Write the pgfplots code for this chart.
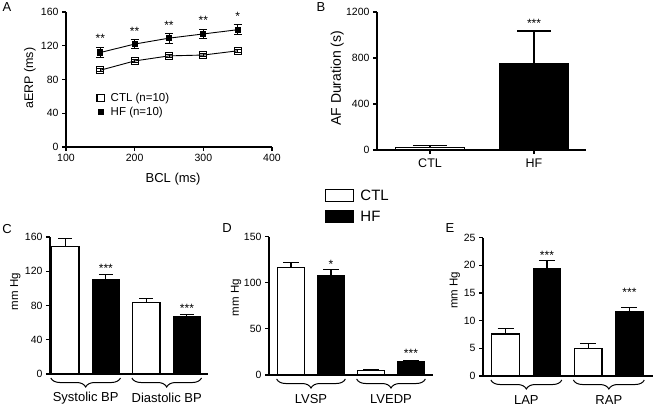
\documentclass[border=0pt]{standalone}
\usepackage{pgfplots}
\pgfplotsset{compat=1.18}
\usepackage{fontspec}
\setmainfont{Liberation Sans}
\usetikzlibrary{decorations.pathreplacing}
\newcommand{\fs}[1]{\fontsize{#1}{#1}\selectfont}
\begin{document}
\begin{tikzpicture}
\path[use as bounding box] (0,0) rectangle (656pt,-407pt);
\tikzset{
  star/.style={font=\fontsize{12}{12}\selectfont},
  brc/.style={decorate, decoration={brace, mirror, amplitude=9pt}, line width=1pt},
}
\pgfplotsset{
  panel/.style={
    scale only axis, axis lines*=left, axis line style={-, line width=1.1pt},
    tick align=outside, tick style={black, line width=1.1pt}, major tick length=4pt,
    ticklabel style={font=\fontsize{10.5}{11}\selectfont},
    /pgf/number format/assume math mode=true, /pgf/number format/1000 sep={},
    clip=false, anchor=south west, enlargelimits=false, ymin=0,
  },
  barpanel/.style={panel, xmin=-0.5, xmax=3.55, xtick={0.5,2.5},
    major x tick style={draw=none},
    xticklabel style={font=\fontsize{13}{14}\selectfont, anchor=center, yshift=-20pt}},
  anybar/.style 2 args={ybar, bar width=0.67, bar shift=0pt, fill=#2, draw=black, line width=1.1pt,
    /pgfplots/error bars/y dir=plus, /pgfplots/error bars/y explicit,
    /pgfplots/error bars/error bar style={line width=1.1pt},
    /pgfplots/error bars/error mark options={rotate=90, mark size=#1, line width=1.1pt}},
  ctlbar/.style={anybar={#1}{white}},
  hfbar/.style={anybar={#1}{black}},
}
% ---------------- Panel A
\begin{axis}[panel, at={(66pt,-147pt)}, width=206pt, height=135pt,
  xmin=100, xmax=400, ymax=160, xtick={100,200,300,400}, ytick={0,40,80,120,160},
  xlabel={\fs{13}BCL (ms)}, ylabel={\fs{12.5}aERP (ms)},
  xlabel style={at={(axis description cs:0.52,-0.237)}, anchor=center},
  ylabel style={at={(axis description cs:-0.175,0.51)}, anchor=center},
  legend style={at={(axis description cs:0.135,0.43)}, anchor=north west, draw=none, fill=none,
    font=\fontsize{11.5}{12}\selectfont, row sep=0pt},
  legend image code/.code={\draw[#1] plot[only marks] coordinates {(0.15cm,0cm)}; \path (0.42cm,0cm);},
  legend cell align=left]
\addplot[black, line width=0.9pt, mark=square, mark size=3.6pt, mark options={fill=white, line width=1.1pt},
  error bars/.cd, y dir=both, y explicit, error bar style={line width=1pt},
  error mark options={rotate=90, mark size=3pt, line width=1pt}]
  coordinates {(150,91) +- (0,2) (200,102) +- (0,2) (250,108) +- (0,2) (300,109) +- (0,2) (350,114) +- (0,2)};
\addlegendentry{CTL (n=10)}
\addplot[black, line width=0.9pt, mark=square*, mark size=2.6pt, mark options={fill=black},
  error bars/.cd, y dir=both, y explicit, error bar style={line width=1pt},
  error mark options={rotate=90, mark size=4pt, line width=1pt}]
  coordinates {(150,112) +- (0,5.5) (200,122) +- (0,5.5) (250,129) +- (0,6) (300,134) +- (0,5.5) (350,139) +- (0,6)};
\addlegendentry{HF (n=10)}
\node[star] at (axis cs:150,129) {**};
\node[star] at (axis cs:200,137.5) {**};
\node[star] at (axis cs:250,144.5) {**};
\node[star] at (axis cs:300,150.5) {**};
\node[star] at (axis cs:350,155) {*};
\end{axis}
% ---------------- Panel B
\begin{axis}[panel, at={(377pt,-150pt)}, width=209pt, height=138pt,
  xmin=-0.51, xmax=1.5, ymax=1200, ytick={0,400,800,1200},
  xtick={0,1}, xticklabels={CTL,HF},
  xticklabel style={font=\fontsize{12.5}{13}\selectfont, yshift=-1pt},
  ylabel={\fs{14}AF Duration (s)},
  ylabel style={at={(axis description cs:-0.19,0.52)}, anchor=center}]
\addplot[ctlbar=17pt] coordinates {(0,22) +- (0,15)};
\addplot[hfbar=17pt] coordinates {(1,750) +- (0,285)};
\node[star] at (axis cs:1,1100) {***};
\end{axis}
% ---------------- Panel C
\begin{axis}[barpanel, at={(50pt,-374pt)}, width=158pt, height=137pt,
  xmin=-0.38, xmax=3.52, ymax=160, ytick={0,40,80,120,160},
  xticklabels={Systolic BP, Diastolic BP},
  ylabel={\fs{11.5}mm Hg}, ylabel style={at={(axis description cs:-0.22,0.6)}, anchor=center}]
\addplot[ctlbar=7pt] coordinates {(0,149) +- (0,9)};
\addplot[hfbar=7pt] coordinates {(1,110) +- (0,6)};
\addplot[ctlbar=7pt] coordinates {(2,84) +- (0,4.5)};
\addplot[hfbar=7pt] coordinates {(3,67) +- (0,2.5)};
\node[star] at (axis cs:1,123) {***};
\node[star] at (axis cs:3,76.5) {***};
\draw[brc] ([yshift=-4pt]axis cs:-0.36,0) -- ([yshift=-4pt]axis cs:1.36,0);
\draw[brc] ([yshift=-4pt]axis cs:1.64,0) -- ([yshift=-4pt]axis cs:3.36,0);
\end{axis}
% ---------------- Panel D
\begin{axis}[barpanel, at={(269pt,-375pt)}, width=164pt, height=138.3pt,
  xmin=-0.55, xmax=3.55, ymax=150, ytick={0,50,100,150},
  xticklabels={LVSP, LVEDP},
  ylabel={\fs{11.5}mm Hg}, ylabel style={at={(axis description cs:-0.2,0.56)}, anchor=center},
  legend style={at={(axis description cs:0.32,1.37)}, anchor=north west, draw=none, fill=none,
    font=\fontsize{15}{16}\selectfont, row sep=5pt},
  legend cell align=left]
\addlegendimage{legend image code/.code={\draw[fill=white, draw=black, line width=1.1pt] (0pt,-6pt) rectangle (28pt,6pt); \path (33pt,0pt);}}
\addlegendentry{CTL}
\addlegendimage{legend image code/.code={\draw[fill=black, draw=black, line width=1.1pt] (0pt,-6pt) rectangle (28pt,6pt); \path (33pt,0pt);}}
\addlegendentry{HF}
\addplot[ctlbar=8pt, forget plot] coordinates {(0,117) +- (0,5)};
\addplot[hfbar=8pt, forget plot] coordinates {(1,108) +- (0,6)};
\addplot[ctlbar=8pt, forget plot] coordinates {(2,4.7) +- (0,1)};
\addplot[hfbar=8pt, forget plot] coordinates {(3,14.5) +- (0,1)};
\node[star] at (axis cs:1,120) {*};
\node[star] at (axis cs:3,23) {***};
\draw[brc] ([yshift=-4pt]axis cs:-0.36,0) -- ([yshift=-4pt]axis cs:1.36,0);
\draw[brc] ([yshift=-4pt]axis cs:1.64,0) -- ([yshift=-4pt]axis cs:3.36,0);
\end{axis}
% ---------------- Panel E
\begin{axis}[barpanel, at={(483pt,-376pt)}, width=170pt, height=138.3pt,
  xmin=-0.55, xmax=3.57, ymax=25, ytick={0,5,10,15,20,25},
  xticklabels={LAP, RAP},
  ylabel={\fs{11.5}mm Hg}, ylabel style={at={(axis description cs:-0.165,0.62)}, anchor=center}]
\addplot[ctlbar=8pt] coordinates {(0,7.6) +- (0,1)};
\addplot[hfbar=8pt] coordinates {(1,19.5) +- (0,1.3)};
\addplot[ctlbar=8pt] coordinates {(2,5.0) +- (0,0.8)};
\addplot[hfbar=8pt] coordinates {(3,11.6) +- (0,0.8)};
\node[star] at (axis cs:1,21.8) {***};
\node[star] at (axis cs:3,15.1) {***};
\draw[brc] ([yshift=-4pt]axis cs:-0.36,0) -- ([yshift=-4pt]axis cs:1.36,0);
\draw[brc] ([yshift=-4pt]axis cs:1.64,0) -- ([yshift=-4pt]axis cs:3.36,0);
\end{axis}
% panel letters
\node[font=\fontsize{13}{13}\selectfont] at (7pt,-7pt) {A};
\node[font=\fontsize{13}{13}\selectfont] at (321pt,-7pt) {B};
\node[font=\fontsize{13}{13}\selectfont] at (7pt,-229pt) {C};
\node[font=\fontsize{13}{13}\selectfont] at (227pt,-228pt) {D};
\node[font=\fontsize{13}{13}\selectfont] at (450pt,-228pt) {E};
\end{tikzpicture}
\end{document}
